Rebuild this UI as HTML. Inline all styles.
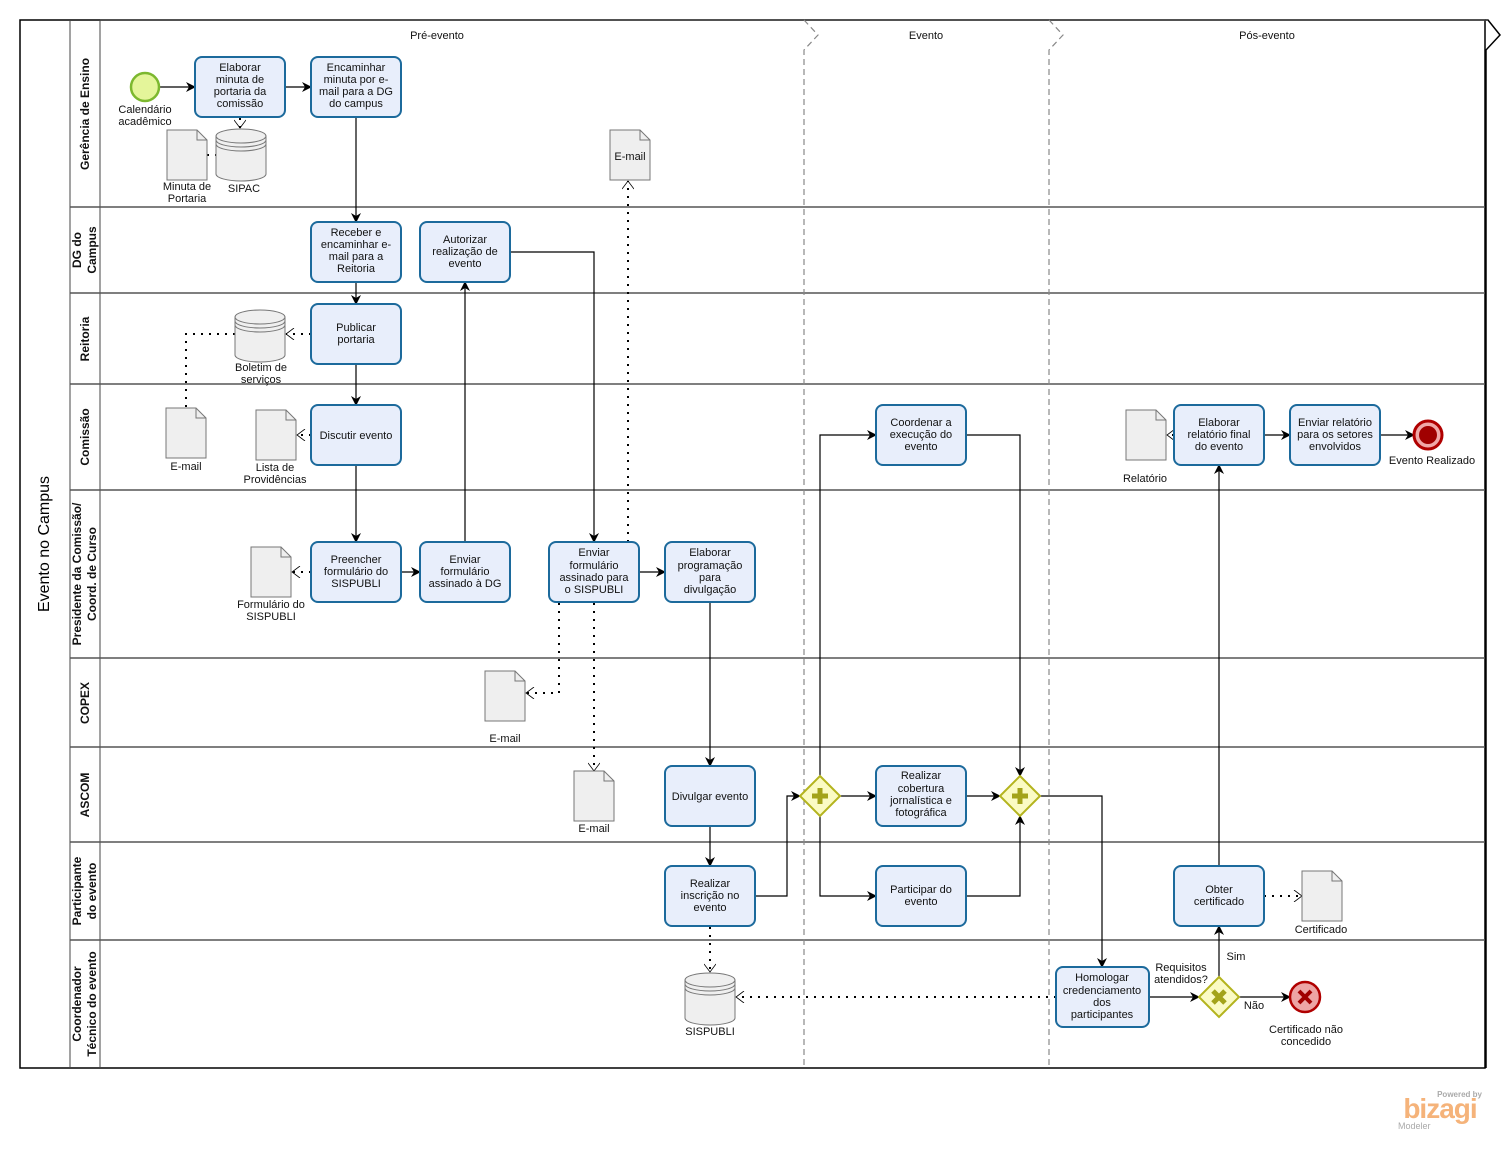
<!DOCTYPE html>
<html><head><meta charset="utf-8"><style>
html,body{margin:0;padding:0;background:#fff;}
svg{display:block;font-family:"Liberation Sans",sans-serif;}
.t{font-size:11px;fill:#111;text-anchor:middle;}
.lane{font-size:12px;font-weight:bold;fill:#111;text-anchor:middle;}
.task{fill:#e8eefb;stroke:#1c6a9c;stroke-width:2;}
.ln{fill:none;stroke:#000;stroke-width:1.2;}
.dot{fill:none;stroke:#000;stroke-width:2;stroke-dasharray:2,6;}
.doc{fill:#efefef;stroke:#777;stroke-width:1;}
</style></head><body>
<svg width="1505" height="1161" viewBox="0 0 1505 1161" xmlns="http://www.w3.org/2000/svg">
<defs>
<marker id="a" markerWidth="10" markerHeight="10" refX="9" refY="5" orient="auto" markerUnits="userSpaceOnUse"><path d="M0,0 L10,5 L0,10 L3,5 z" fill="#000"/></marker>
<marker id="o" markerWidth="10" markerHeight="12" refX="9" refY="6" orient="auto" markerUnits="userSpaceOnUse"><path d="M1,0 L9,6 L1,12" fill="none" stroke="#000" stroke-width="0.8"/></marker>
<g id="doc"><path class="doc" d="M0,0 H30 L40,10 V50 H0 Z"/><path d="M30,0 V10 H40" fill="none" stroke="#777"/></g>
<g id="db"><path d="M0,8 V46 A25,7 0 0 0 50,46 V8" fill="#efefef" stroke="#777"/><ellipse cx="25" cy="8" rx="25" ry="7" fill="#efefef" stroke="#777"/><path d="M0,12 A25,7 0 0 0 50,12 M0,16 A25,7 0 0 0 50,16" fill="none" stroke="#777"/></g>
</defs>
<!-- pool -->
<rect x="20" y="20" width="1465" height="1048" fill="#fff" stroke="#000" stroke-width="1.5"/>
<line x1="70" y1="20" x2="70" y2="1068" stroke="#444"/>
<line x1="100" y1="20" x2="100" y2="1068" stroke="#444"/>
<path d="M1485,20 L1488,20 L1500,35 L1486,50 L1486,1068" fill="none" stroke="#000" stroke-width="1.5"/>
<line x1="100" y1="20" x2="1488" y2="20" stroke="#444" stroke-width="1.5"/>
<g stroke="#555" stroke-width="1.5">
<line x1="70" y1="207" x2="1485" y2="207"/><line x1="70" y1="293" x2="1485" y2="293"/>
<line x1="70" y1="384" x2="1485" y2="384"/><line x1="70" y1="490" x2="1485" y2="490"/>
<line x1="70" y1="658" x2="1485" y2="658"/><line x1="70" y1="747" x2="1485" y2="747"/>
<line x1="70" y1="842" x2="1485" y2="842"/><line x1="70" y1="940" x2="1485" y2="940"/>
</g>
<g stroke="#888" stroke-width="1.2" fill="none" stroke-dasharray="6,4">
<path d="M804,20 L818,35 L804,50 V1068"/><path d="M1049,20 L1063,35 L1049,50 V1068"/>
</g>
<text x="437" y="39" class="t">Pré-evento</text><text x="926" y="39" class="t">Evento</text><text x="1267" y="39" class="t">Pós-evento</text>
<text transform="translate(49,544) rotate(-90)" style="font-size:16px;text-anchor:middle">Evento no Campus</text>
<g class="lane">
<text transform="translate(89,114) rotate(-90)">Gerência de Ensino</text>
<text transform="translate(81,250) rotate(-90)">DG do</text><text transform="translate(96,250) rotate(-90)">Campus</text>
<text transform="translate(89,339) rotate(-90)">Reitoria</text>
<text transform="translate(89,437) rotate(-90)">Comissão</text>
<text transform="translate(81,574) rotate(-90)">Presidente da Comissão/</text><text transform="translate(96,574) rotate(-90)">Coord. de Curso</text>
<text transform="translate(89,703) rotate(-90)">COPEX</text>
<text transform="translate(89,795) rotate(-90)">ASCOM</text>
<text transform="translate(81,891) rotate(-90)">Participante</text><text transform="translate(96,891) rotate(-90)">do evento</text>
<text transform="translate(81,1004) rotate(-90)">Coordenador</text><text transform="translate(96,1004) rotate(-90)">Técnico do evento</text>
</g>
<!-- connectors -->
<g class="ln" marker-end="url(#a)">
<path d="M159,87 H195"/><path d="M285,87 H311"/><path d="M356,117 V222"/><path d="M356,282 V304"/>
<path d="M356,364 V405"/><path d="M356,465 V542"/><path d="M401,572 H420"/><path d="M465,542 V282"/>
<path d="M510,252 H594 V542"/><path d="M639,572 H665"/><path d="M710,602 V766"/><path d="M710,826 V866"/>
<path d="M755,896 H787 V796 H800"/><path d="M820,776 V435 H876"/><path d="M840,796 H876"/><path d="M820,816 V896 H876"/>
<path d="M966,435 H1020 V776"/><path d="M966,796 H1000"/><path d="M966,896 H1020 V816"/>
<path d="M1040,796 H1102 V967"/><path d="M1149,997 H1199"/><path d="M1219,977 V926"/><path d="M1239,997 H1290"/>
<path d="M1219,866 V465"/><path d="M1264,435 H1290"/><path d="M1380,435 H1414"/>
</g>
<g class="dot" marker-end="url(#o)">
<path d="M240,118 V128"/><path d="M311,334 H286"/><path d="M311,435 H297"/><path d="M311,572 H292"/>
<path d="M628,542 V181"/><path d="M559,603 V693 H526"/><path d="M594,603 V771"/><path d="M710,927 V972"/>
<path d="M1056,997 H736"/><path d="M1174,435 H1167"/><path d="M1264,896 H1302"/>
</g>
<path class="dot" d="M207,155 H216"/><path class="dot" d="M235,334 H186 V408"/>
<!-- tasks -->
<g>
<rect class="task" x="195" y="57" width="90" height="60" rx="7"/>
<rect class="task" x="311" y="57" width="90" height="60" rx="7"/>
<rect class="task" x="311" y="222" width="90" height="60" rx="7"/>
<rect class="task" x="420" y="222" width="90" height="60" rx="7"/>
<rect class="task" x="311" y="304" width="90" height="60" rx="7"/>
<rect class="task" x="311" y="405" width="90" height="60" rx="7"/>
<rect class="task" x="311" y="542" width="90" height="60" rx="7"/>
<rect class="task" x="420" y="542" width="90" height="60" rx="7"/>
<rect class="task" x="549" y="542" width="90" height="60" rx="7"/>
<rect class="task" x="665" y="542" width="90" height="60" rx="7"/>
<rect class="task" x="665" y="766" width="90" height="60" rx="7"/>
<rect class="task" x="665" y="866" width="90" height="60" rx="7"/>
<rect class="task" x="876" y="405" width="90" height="60" rx="7"/>
<rect class="task" x="876" y="766" width="90" height="60" rx="7"/>
<rect class="task" x="876" y="866" width="90" height="60" rx="7"/>
<rect class="task" x="1056" y="967" width="93" height="60" rx="7"/>
<rect class="task" x="1174" y="866" width="90" height="60" rx="7"/>
<rect class="task" x="1174" y="405" width="90" height="60" rx="7"/>
<rect class="task" x="1290" y="405" width="90" height="60" rx="7"/>
</g>
<g class="t">
<text x="240" y="71">Elaborar</text><text x="240" y="83">minuta de</text><text x="240" y="95">portaria da</text><text x="240" y="107">comissão</text>
<text x="356" y="71">Encaminhar</text><text x="356" y="83">minuta por e-</text><text x="356" y="95">mail para a DG</text><text x="356" y="107">do campus</text>
<text x="356" y="236">Receber e</text><text x="356" y="248">encaminhar e-</text><text x="356" y="260">mail para a</text><text x="356" y="272">Reitoria</text>
<text x="465" y="243">Autorizar</text><text x="465" y="255">realização de</text><text x="465" y="267">evento</text>
<text x="356" y="331">Publicar</text><text x="356" y="343">portaria</text>
<text x="356" y="439">Discutir evento</text>
<text x="356" y="563">Preencher</text><text x="356" y="575">formulário do</text><text x="356" y="587">SISPUBLI</text>
<text x="465" y="563">Enviar</text><text x="465" y="575">formulário</text><text x="465" y="587">assinado à DG</text>
<text x="594" y="556">Enviar</text><text x="594" y="569">formulário</text><text x="594" y="581">assinado para</text><text x="594" y="593">o SISPUBLI</text>
<text x="710" y="556">Elaborar</text><text x="710" y="569">programação</text><text x="710" y="581">para</text><text x="710" y="593">divulgação</text>
<text x="710" y="800">Divulgar evento</text>
<text x="710" y="887">Realizar</text><text x="710" y="899">inscrição no</text><text x="710" y="911">evento</text>
<text x="921" y="426">Coordenar a</text><text x="921" y="438">execução do</text><text x="921" y="450">evento</text>
<text x="921" y="779">Realizar</text><text x="921" y="792">cobertura</text><text x="921" y="804">jornalística e</text><text x="921" y="816">fotográfica</text>
<text x="921" y="893">Participar do</text><text x="921" y="905">evento</text>
<text x="1102" y="981">Homologar</text><text x="1102" y="994">credenciamento</text><text x="1102" y="1006">dos</text><text x="1102" y="1018">participantes</text>
<text x="1219" y="893">Obter</text><text x="1219" y="905">certificado</text>
<text x="1219" y="426">Elaborar</text><text x="1219" y="438">relatório final</text><text x="1219" y="450">do evento</text>
<text x="1335" y="426">Enviar relatório</text><text x="1335" y="438">para os setores</text><text x="1335" y="450">envolvidos</text>
</g>
<!-- events -->
<circle cx="145" cy="87" r="14" fill="#e4f59a" stroke="#7cb82f" stroke-width="2.5"/>
<circle cx="1428" cy="435" r="14" fill="#f0a8a8" stroke="#b00000" stroke-width="3"/><circle cx="1428" cy="435" r="9" fill="#a00000"/>
<circle cx="1305" cy="997" r="15" fill="#eda5a5" stroke="#b00000" stroke-width="2.5"/>
<path d="M1299,991 L1311,1003 M1311,991 L1299,1003" stroke="#a00000" stroke-width="4"/>
<!-- gateways -->
<g fill="#fbfbc4" stroke="#b4b41e" stroke-width="2">
<path d="M820,776 L840,796 L820,816 L800,796 Z"/><path d="M1020,776 L1040,796 L1020,816 L1000,796 Z"/><path d="M1219,977 L1239,997 L1219,1017 L1199,997 Z"/>
</g>
<g stroke="#a3a31a" stroke-width="5">
<path d="M812,796 H828 M820,788 V804"/><path d="M1012,796 H1028 M1020,788 V804"/><path d="M1213,991 L1225,1003 M1225,991 L1213,1003"/>
</g>
<!-- data objects -->
<use href="#doc" x="167" y="130"/><use href="#db" x="216" y="128"/><use href="#doc" x="610" y="130"/>
<use href="#db" x="235" y="309"/><use href="#doc" x="166" y="408"/><use href="#doc" x="256" y="410"/>
<use href="#doc" x="1126" y="410"/><use href="#doc" x="251" y="547"/><use href="#doc" x="485" y="671"/>
<use href="#doc" x="574" y="771"/><use href="#db" x="685" y="972"/><use href="#doc" x="1302" y="871"/>
<g class="t">
<text x="145" y="113">Calendário</text><text x="145" y="125">acadêmico</text>
<text x="187" y="190">Minuta de</text><text x="187" y="202">Portaria</text><text x="244" y="192">SIPAC</text>
<text x="630" y="160">E-mail</text>
<text x="261" y="371">Boletim de</text><text x="261" y="383">serviços</text>
<text x="186" y="470">E-mail</text><text x="275" y="471">Lista de</text><text x="275" y="483">Providências</text>
<text x="1145" y="482">Relatório</text><text x="1432" y="464">Evento Realizado</text>
<text x="271" y="608">Formulário do</text><text x="271" y="620">SISPUBLI</text>
<text x="505" y="742">E-mail</text><text x="594" y="832">E-mail</text><text x="710" y="1035">SISPUBLI</text>
<text x="1321" y="933">Certificado</text><text x="1236" y="960">Sim</text><text x="1254" y="1009">Não</text>
<text x="1181" y="971">Requisitos</text><text x="1181" y="983">atendidos?</text>
<text x="1306" y="1033">Certificado não</text><text x="1306" y="1045">concedido</text>
</g>
<!-- logo -->
<text x="1482" y="1097" style="font-size:8px;fill:#aaa;text-anchor:end;font-weight:bold">Powered by</text>
<text x="1440" y="1118" style="font-size:28px;fill:#f5b37a;text-anchor:middle;font-weight:bold;letter-spacing:-1px">bizagi</text>
<text x="1398" y="1129" style="font-size:9px;fill:#aaa">Modeler</text>
</svg>
</body></html>
